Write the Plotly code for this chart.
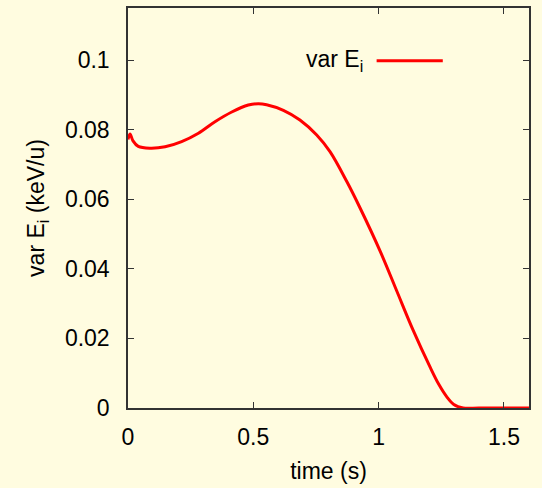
import plotly.graph_objects as go

# Variance of ion energy vs time
time_s = [0, 0.008, 0.02, 0.041, 0.088, 0.148, 0.214, 0.281, 0.347, 0.414, 0.48,
          0.52, 0.553, 0.62, 0.686, 0.753, 0.806, 0.873, 0.926, 1.006, 1.072,
          1.138, 1.205, 1.24, 1.272, 1.3, 1.337, 1.4, 1.5, 1.6]
var_ei = [0.0772, 0.0788, 0.0768, 0.0752, 0.0747, 0.0751, 0.0766, 0.0790, 0.0823,
          0.0851, 0.0871, 0.0875, 0.0872, 0.0856, 0.0828, 0.0785, 0.0737, 0.0651,
          0.0575, 0.0451, 0.0337, 0.0223, 0.0118, 0.0068, 0.0032, 0.0010, 0.0,
          0.0, 0.0, 0.0]

x_ticks = [0, 0.5, 1, 1.5]
x_ticklabels = ["0", "0.5", "1", "1.5"]
y_ticks = [0, 0.02, 0.04, 0.06, 0.08, 0.1]
y_ticklabels = ["0", "0.02", "0.04", "0.06", "0.08", "0.1"]

bg = "#fffce0"
axis_col = "#333333"
font = dict(family="Liberation Sans, Arial, sans-serif", size=23, color="black")

fig = go.Figure()
fig.add_trace(go.Scatter(
    x=time_s, y=var_ei, mode="lines", name="var E<sub>i</sub>",
    line=dict(color="#ff0000", width=3, shape="spline", smoothing=1.0),
    showlegend=False,
))

axis_common = dict(
    showgrid=False, zeroline=False, showline=True, linecolor=axis_col,
    linewidth=1.5, mirror="ticks", ticks="inside", ticklen=6,
    tickcolor=axis_col, tickwidth=1, tickfont=font,
)

fig.update_layout(
    width=542, height=488,
    margin=dict(l=128, r=13, t=6, b=80),
    paper_bgcolor=bg, plot_bgcolor=bg,
    font=font,
    xaxis=dict(range=[0, 1.6], tickvals=x_ticks, ticktext=x_ticklabels,
               title=dict(text="time (s)", font=font, standoff=14),
               ticklabelstandoff=8, **axis_common),
    yaxis=dict(range=[0, 0.115], tickvals=y_ticks, ticktext=y_ticklabels,
               title=dict(text="var E<sub>i</sub> (keV/u)", font=font, standoff=14),
               ticklabelstandoff=12, **axis_common),
)

# Key: label followed by a line sample, placed inside the plot area
fig.add_annotation(
    xref="paper", yref="paper", x=0.59, y=0.87, xanchor="right", yanchor="middle",
    text="var E<sub>i</sub>", showarrow=False, font=font,
)
fig.add_shape(
    type="line", xref="paper", yref="paper", x0=0.62, x1=0.785, y0=0.868, y1=0.868,
    line=dict(color="#ff0000", width=3),
)

fig.write_html("out.html")
